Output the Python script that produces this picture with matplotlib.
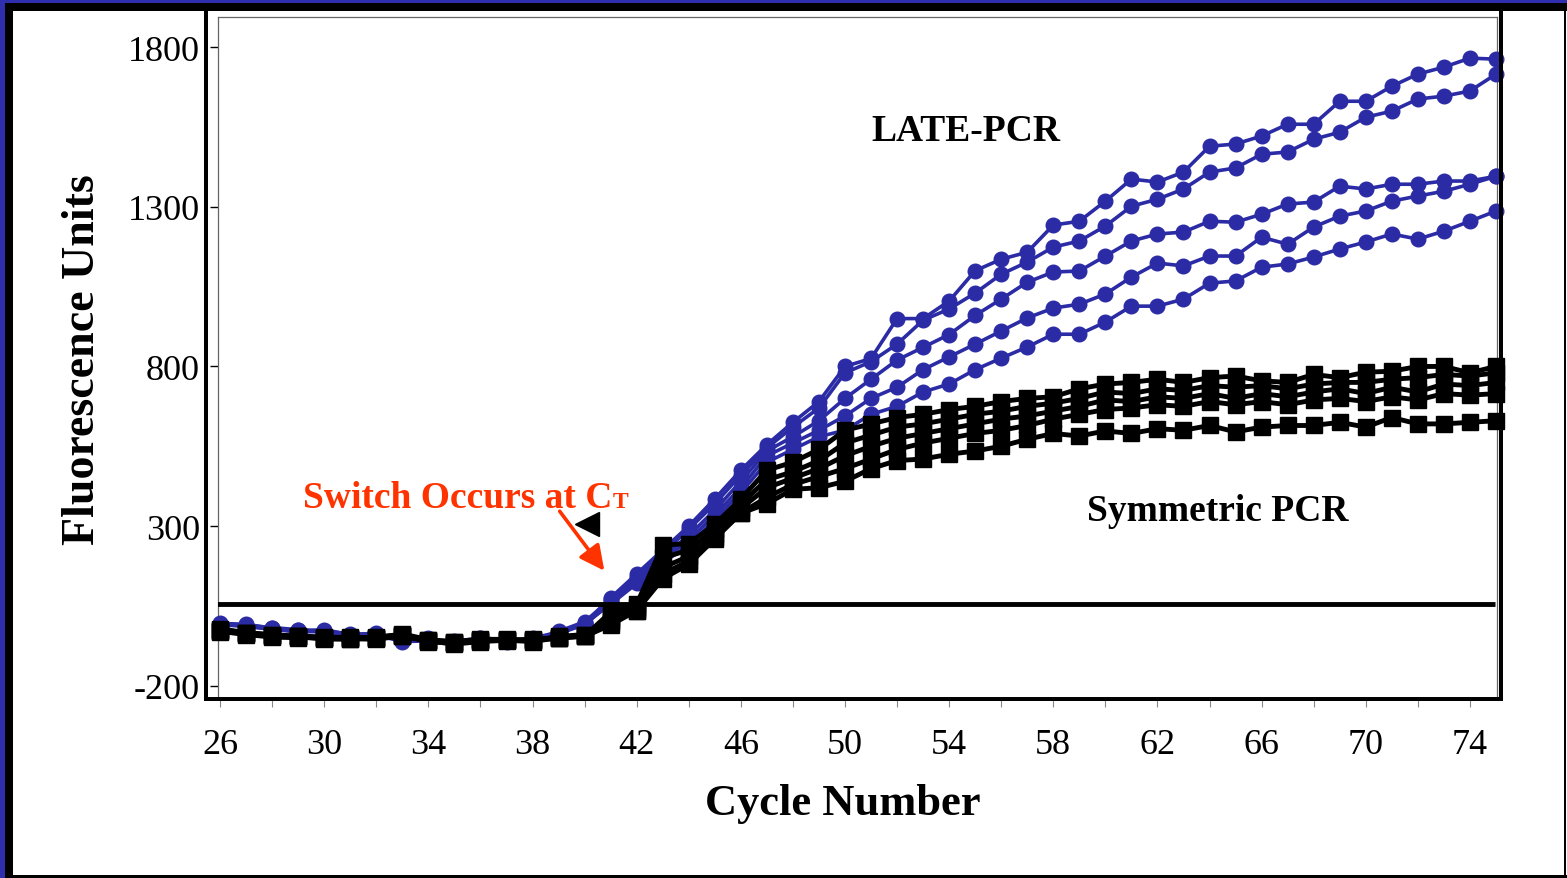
import matplotlib.pyplot as plt
from matplotlib.patches import Rectangle
from matplotlib.ticker import MultipleLocator, FuncFormatter

plt.rcParams['font.family'] = ['Liberation Serif', 'DejaVu Serif']

cycles = list(range(26, 76))

# LATE-PCR replicates (blue circles)
late_a = [-5, -8, -20, -28, -25, -40, -38, -60, -55, -65, -55, -60, -55, -35, -5,
          75, 150, 225, 300, 385, 475, 555, 625, 690, 800,
          825, 950, 950, 1005, 1100, 1136, 1158, 1243, 1255, 1318,
          1387, 1378, 1409, 1490, 1497, 1522, 1559, 1559, 1631, 1631,
          1678, 1716, 1738, 1766, 1763]
late_b = [-10, -12, -18, -25, -30, -38, -40, -55, -58, -62, -50, -58, -60, -30, 0,
          70, 140, 215, 290, 370, 460, 545, 610, 670, 780,
          815, 870, 945, 980, 1030, 1089, 1127, 1174, 1193, 1240,
          1302, 1324, 1356, 1409, 1422, 1465, 1472, 1512, 1534, 1581,
          1600, 1638, 1647, 1663, 1716]
late_c = [-8, -15, -22, -30, -28, -42, -35, -58, -52, -68, -52, -55, -58, -38, -8,
          65, 135, 205, 270, 350, 440, 535, 580, 630, 700,
          760, 820, 860, 900, 960, 1011, 1064, 1096, 1099, 1146,
          1193, 1215, 1221, 1255, 1252, 1277, 1309, 1315, 1365, 1356,
          1371, 1371, 1381, 1381, 1396]
late_d = [-12, -10, -25, -27, -32, -40, -42, -62, -60, -60, -58, -62, -52, -32, -10,
          60, 130, 195, 255, 335, 420, 520, 560, 600, 645,
          700, 735, 790, 830, 870, 911, 952, 983, 995, 1027,
          1080, 1124, 1115, 1146, 1146, 1205, 1183, 1237, 1271, 1287,
          1318, 1334, 1349, 1371, 1396]
late_e = [-6, -14, -24, -32, -30, -45, -40, -56, -57, -70, -54, -57, -56, -36, -6,
          55, 120, 185, 240, 320, 405, 500, 540, 580, 600,
          650, 675, 720, 745, 790, 826, 861, 901, 901, 939,
          989, 989, 1011, 1061, 1068, 1111, 1121, 1143, 1168, 1190,
          1215, 1199, 1224, 1255, 1287]

# Symmetric PCR replicates (black squares)
sym_a = [-25, -35, -42, -45, -48, -50, -50, -42, -58, -62, -55, -55, -58, -48, -45,
         30, 55, 240, 245, 305, 385, 475, 500, 540, 600,
         620, 640, 650, 665, 675, 690, 700, 705, 730, 745,
         750, 760, 750, 765, 770, 755, 750, 775, 765, 782,
         785, 800, 800, 780, 800]
sym_b = [-28, -38, -45, -48, -52, -52, -48, -40, -60, -65, -58, -58, -55, -50, -42,
         15, 45, 200, 225, 290, 370, 445, 470, 505, 560,
         585, 610, 620, 635, 650, 660, 675, 685, 700, 720,
         715, 730, 725, 740, 735, 740, 730, 745, 750, 750,
         760, 765, 775, 770, 780]
sym_c = [-30, -40, -48, -50, -50, -48, -52, -45, -62, -68, -60, -56, -60, -46, -40,
         5, 40, 170, 205, 275, 355, 420, 450, 480, 520,
         550, 575, 590, 605, 620, 635, 645, 660, 675, 695,
         690, 705, 700, 715, 700, 715, 705, 720, 730, 715,
         735, 720, 745, 740, 750]
sym_d = [-22, -34, -40, -46, -54, -55, -50, -38, -56, -63, -57, -60, -57, -52, -44,
         0, 35, 150, 190, 265, 340, 390, 430, 455, 480,
         510, 540, 560, 575, 590, 600, 615, 635, 650, 665,
         670, 680, 675, 690, 680, 690, 680, 695, 700, 690,
         705, 695, 715, 710, 715]
sym_e = [-32, -36, -46, -44, -50, -53, -55, -44, -60, -70, -62, -58, -62, -50, -46,
         -10, 35, 135, 180, 260, 340, 370, 415, 420, 440,
         480, 505, 510, 525, 535, 550, 572, 590, 582, 598,
         590, 605, 600, 615, 595, 610, 615, 615, 625, 610,
         640, 620, 620, 625, 630]

threshold = 55
y_ticks = [-200, 300, 800, 1300, 1800]
x_ticks = list(range(26, 75, 4))

BLUE = '#2b2ba6'
RED = '#ff3300'
W, H = 1567, 879


def fx(px):
    return px / W


def fy(py):
    return 1 - py / H


def band(fig, x0, y0, x1, y1, color):
    fig.add_artist(Rectangle((fx(x0), fy(y1)), (x1 - x0) / W, (y1 - y0) / H,
                             transform=fig.transFigure, color=color, lw=0, zorder=5))


fig = plt.figure(figsize=(15.67, 8.79), dpi=100)
ax = fig.add_axes([fx(218), fy(700), (1497 - 218) / W, (700 - 18) / H])

for s in [late_a, late_b, late_c, late_d, late_e]:
    ax.plot(cycles, s, color=BLUE, lw=2.6, marker='o', ms=10.5, clip_on=False, zorder=3)
for s in [sym_a, sym_b, sym_c, sym_d, sym_e]:
    ax.plot(cycles, s, color='black', lw=3.5, marker='s', ms=11.5, clip_on=False, zorder=4)

ax.hlines(threshold, 25.85, 74.95, color='black', lw=3.5, zorder=5)

ax.set_xlim(25.92, 75.04)
ax.set_ylim(-242, 1895)
ax.set_xticks(x_ticks)
ax.xaxis.set_minor_locator(MultipleLocator(2))
ax.set_yticks(y_ticks)
ax.yaxis.set_major_formatter(FuncFormatter(lambda v, p: '%d' % v))
ax.tick_params(axis='x', which='both', length=6, width=0.8, color='#888888',
               labelsize=26, pad=15)
ax.tick_params(axis='y', length=6, width=1, color='black', labelsize=26, pad=7)
for sp in ax.spines.values():
    sp.set_color('#666666')
    sp.set_linewidth(0.9)

fig.text(fx(843), fy(804), 'Cycle Number', fontsize=32, fontweight='bold',
         ha='center', va='center')
fig.text(fx(83), fy(360), 'Fluorescence Units', fontsize=33, fontweight='bold',
         ha='center', va='center', rotation=90)

ax.text(0.585, 0.834, 'LATE-PCR', transform=ax.transAxes, fontsize=27,
        fontweight='bold', ha='center', va='center')
ax.text(0.782, 0.277, 'Symmetric PCR', transform=ax.transAxes, fontsize=27,
        fontweight='bold', ha='center', va='center')

fig.text(fx(303), fy(508), 'Switch Occurs at C', fontsize=27, fontweight='bold',
         color=RED, ha='left', va='baseline')
fig.text(fx(613), fy(508), 'T', fontsize=17, fontweight='bold',
         color=RED, ha='left', va='baseline')
fig.add_artist(plt.Line2D([fx(587)], [fy(525)], marker='<', ms=17, color='black',
                          transform=fig.transFigure, zorder=6))
ax.annotate('', xy=(fx(606), fy(574)), xycoords='figure fraction',
            xytext=(fx(558), fy(510)), textcoords='figure fraction',
            arrowprops=dict(arrowstyle='-|>,head_length=1.5,head_width=0.75',
                            color=RED, lw=2.6))

# slide frame
band(fig, 0, 0, W, 4, '#2e2eae')
band(fig, 0, 0, 5, H, '#2e2eae')
band(fig, 5, 4, W, 12, 'black')
band(fig, 5, 4, 13, H, 'black')
band(fig, 13, 876, W, H, 'black')
band(fig, 1564, 12, 1566, H, 'black')
# thick plot frame
band(fig, 204, 12, 208, 702, 'black')
band(fig, 204, 698, 1503, 702, 'black')
band(fig, 1499, 12, 1503, 702, 'black')

fig.savefig('out.png', dpi=100)
